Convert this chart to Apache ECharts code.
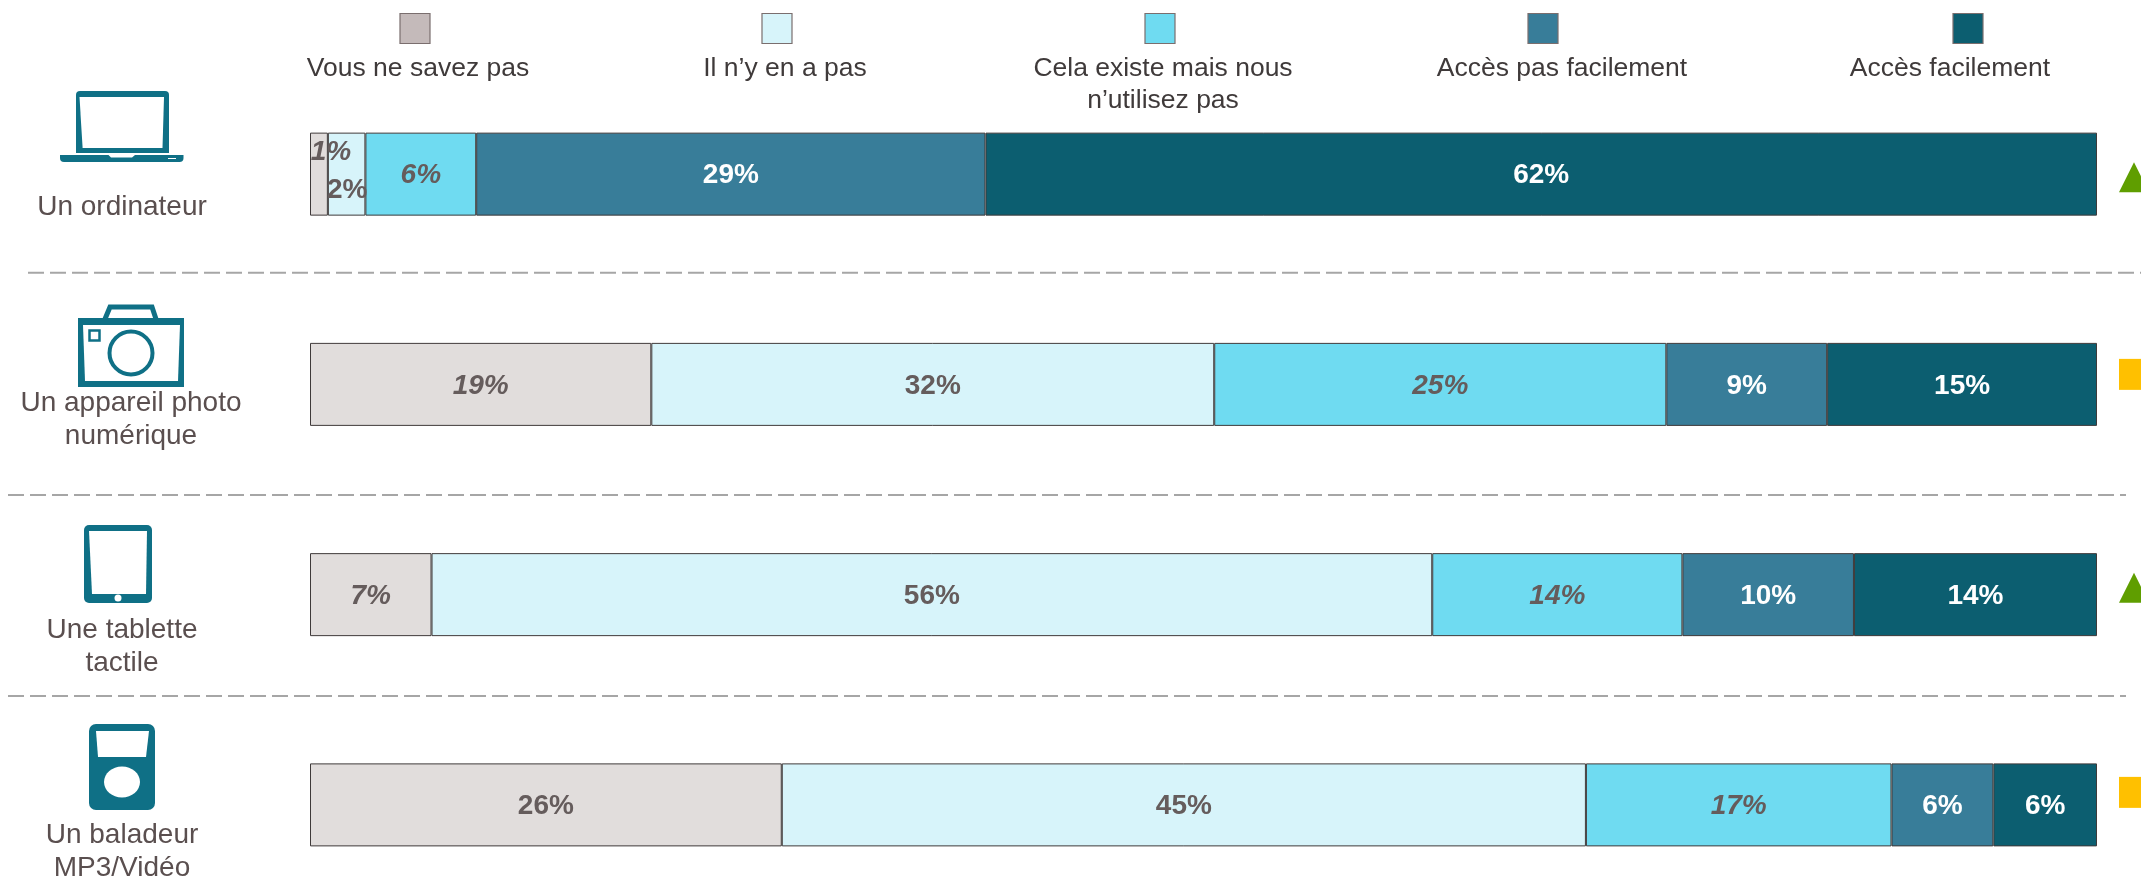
<!DOCTYPE html>
<html><head><meta charset="utf-8">
<style>html,body{margin:0;padding:0;background:#fff}#c{width:2141px;height:880px}</style>
<script src="https://cdn.jsdelivr.net/npm/echarts@6/dist/echarts.min.js"></script>
</head><body><div id="c"></div>
<script>
const categories = ['Un ordinateur', 'Un appareil photo\nnumérique', 'Une tablette\ntactile', 'Un baladeur\nMP3/Vidéo'];
const seriesNames = ['Vous ne savez pas', 'Il n’y en a pas', 'Cela existe mais nous\nn’utilisez pas', 'Accès pas facilement', 'Accès facilement'];
const dontKnow = [1, 19.1, 6.8, 26.4];
const noneAvailable = [2.1, 31.5, 56, 45];
const notUsed = [6.2, 25.3, 14, 17.1];
const hardAccess = [28.5, 9, 9.6, 5.7];
const easyAccess = [62.2, 15.1, 13.6, 5.8];
const trends = ['triangle', 'rect', 'triangle', 'rect'];

const seriesValues = [dontKnow, noneAvailable, notUsed, hardAccess, easyAccess];
const fills = ['#e1dddc', '#d7f4fa', '#6fdbf1', '#387d99', '#0c5e70'];
const swatchFills = ['#c4baba', '#d7f4fa', '#6fdbf1', '#387d99', '#0c5e70'];
const labelColors = ['#655c5c', '#655c5c', '#655c5c', '#ffffff', '#ffffff'];
const italics = [[true, true, true, false], [false, false, false, false], [true, true, true, true], [false, false, false, false], [false, false, false, false]];
const labelOffsets = {'0-0': [12, -23], '1-0': [0.5, 15]};
const legendX = [415, 777, 1160, 1543, 1968];
const legendTextX = [418, 785, 1163, 1562, 1950];
const categoryLabelPos = [[122, 191], [131, 386.5], [122, 613.5], [122, 818.5]];
const trendOffsets = [[0, 3], [0, -10], [0, -7], [0, -12.5]];
const trendColors = {triangle: '#5f9e00', rect: '#ffc000'};
const FONT = '"Liberation Sans", Arial, sans-serif';
const ICON = '#0f7086';

const barSeries = seriesValues.map((vals, s) => ({
  name: seriesNames[s], type: 'bar', stack: 'total', barWidth: 83,
  itemStyle: {color: fills[s], borderColor: '#3f3a3a', borderWidth: 1},
  data: vals.map((v, i) => {
    const o = labelOffsets[s + '-' + i] || [0, 0];
    return {
      value: v,
      label: {
        show: true, position: 'inside',
        formatter: Math.round(v) + '%',
        color: labelColors[s], fontFamily: FONT, fontSize: 28, fontWeight: 'bold',
        fontStyle: italics[s][i] ? 'italic' : 'normal',
        offset: [o[0], o[1] + 1.5]
      }
    };
  }),
  emphasis: {disabled: true}, animation: false
}));

const trendSeries = {
  type: 'scatter', clip: false, silent: true, animation: false,
  data: trends.map((t, i) => ({
    value: [102.07, i], symbol: t,
    symbolSize: t === 'triangle' ? [30, 30] : [30, 31],
    symbolOffset: trendOffsets[i],
    itemStyle: {color: trendColors[t], opacity: 1}
  }))
};

const g = [];
[[28, 2141, 272.7], [8, 2126, 495], [8, 2126, 696]].forEach(l => g.push({
  type: 'line', shape: {x1: l[0], y1: l[2], x2: l[1], y2: l[2]},
  style: {stroke: '#a6a6a6', lineWidth: 2, lineDash: [16, 6]}
}));
seriesNames.forEach((n, i) => {
  g.push({type: 'rect', shape: {x: legendX[i]-15, y: 13.5, width: 30, height: 30},
    style: {fill: swatchFills[i], stroke: '#7a6e6e', lineWidth: 1.2}});
  g.push({type: 'text', x: legendTextX[i], y: 53, style: {text: n, fill: '#3f3a3a',
    font: '26.5px ' + FONT, align: 'center', verticalAlign: 'top', lineHeight: 32}});
});
categories.forEach((c, i) => g.push({type: 'text', x: categoryLabelPos[i][0], y: categoryLabelPos[i][1],
  style: {text: c, fill: '#5a4f4f', font: '28px ' + FONT, align: 'center', verticalAlign: 'top', lineHeight: 33}}));
const poly = (pts, fill) => ({type: 'polygon', shape: {points: pts}, style: {fill}});
const rr = (x, y, w, h, r, fill) => ({type: 'rect', shape: {x, y, width: w, height: h, r}, style: {fill}});
// laptop
g.push(rr(76, 91, 93, 62, [4, 4, 0, 0], ICON));
g.push(poly([[79.5, 97], [164, 97], [162.5, 148], [82.6, 148]], '#fff'));
g.push(rr(60, 155, 123.5, 7, [0, 0, 4, 4], ICON));
g.push(poly([[108.5, 155], [135, 155], [132, 157.5], [111, 157.5]], '#fff'));
g.push(rr(168, 158, 8, 1, 0, '#fff'));
// camera
g.push({type: 'rect', shape: {x: 78, y: 318, width: 106, height: 69}, style: {fill: ICON}});
g.push(poly([[83, 325], [180, 325], [178, 381], [85, 381]], '#fff'));
g.push({type: 'polyline', shape: {points: [[105, 319], [110, 307], [152, 307], [156, 319]]},
  style: {stroke: ICON, fill: 'none', lineWidth: 5}});
g.push({type: 'circle', shape: {cx: 131, cy: 353, r: 21.5}, style: {stroke: ICON, fill: '#fff', lineWidth: 4}});
g.push({type: 'rect', shape: {x: 89.5, y: 330.5, width: 10, height: 10}, style: {stroke: ICON, fill: '#fff', lineWidth: 2.5}});
// tablet
g.push(rr(84, 525, 68, 78, 5, ICON));
g.push(poly([[89, 531], [147, 531], [146, 594], [92, 594]], '#fff'));
g.push({type: 'circle', shape: {cx: 118, cy: 598, r: 3.5}, style: {fill: '#fff'}});
// player
g.push(rr(89, 724, 66, 86, 7, ICON));
g.push(poly([[96, 731], [149, 731], [146, 757], [98, 757]], '#fff'));
g.push({type: 'ellipse', shape: {cx: 122, cy: 782, rx: 18, ry: 15.5}, style: {fill: '#fff'}});

const chart = echarts.init(document.getElementById('c'), null, {renderer: 'canvas'});
chart.setOption({
  backgroundColor: '#fff', animation: false,
  grid: {left: 310, top: 69, width: 1787, height: 841, containLabel: false, outerBoundsMode: 'none'},
  xAxis: {type: 'value', min: 0, max: 100, show: false},
  yAxis: {
    type: 'category', inverse: true, data: categories,
    axisLine: {show: false}, axisTick: {show: false}, splitLine: {show: false}, axisLabel: {show: false}
  },
  series: barSeries.concat([trendSeries]),
  graphic: {elements: g}
});
</script></body></html>
